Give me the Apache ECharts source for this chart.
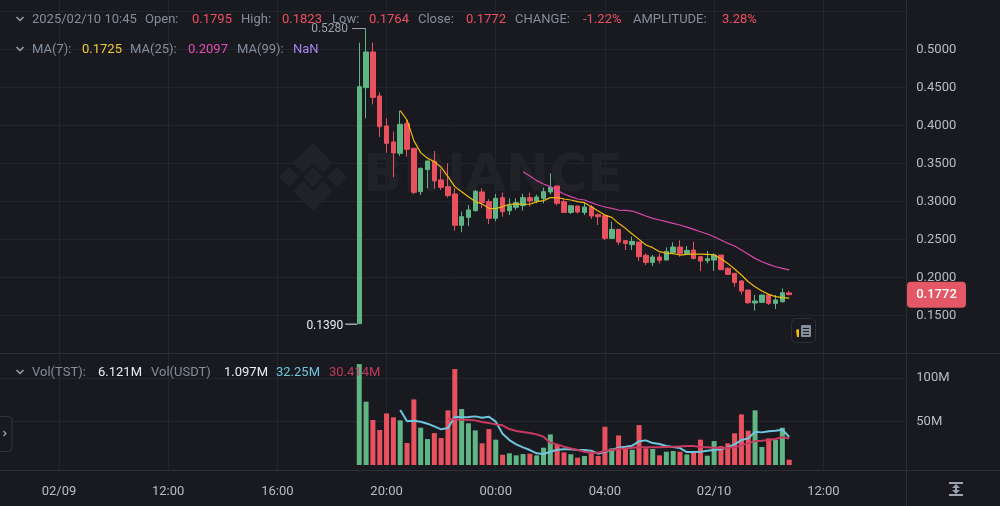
<!DOCTYPE html>
<html>
<head>
<meta charset="utf-8">
<style>html,body{margin:0;padding:0;background:#181a20}#c{width:1000px;height:506px}</style>
<script src="https://cdn.jsdelivr.net/npm/echarts@6/dist/echarts.min.js"></script>
</head>
<body>
<div id="c"></div>
<script>
// Hours counted from the start of the day of the first tick, one candle every 15 minutes
const firstCandleHour = 19;
const candleStep = 0.25;
const tickHours  = [8, 12, 16, 20, 24, 28, 32, 36];
const tickLabels = ['02/09', '12:00', '16:00', '20:00', '00:00', '04:00', '02/10', '12:00'];

const opens  = [.139,.4496,.4965,.4386,.3991,.3781,.3632,.4022,.3697,.3127,.3417,.3522,.3281,.3193,.3096,.2684,.2789,.2877,.3123,.2996,.2776,.3048,.2877,.2921,.2943,.3048,.3004,.3039,.3123,.3201,.2995,.2854,.2938,.2854,.2925,.2824,.2811,.2512,.2631,.2482,.2429,.2464,.2289,.2196,.2267,.2227,.2324,.2398,.2311,.2359,.2271,.2218,.2227,.2293,.2118,.2052,.1951,.1832,.1662,.167,.1767,.1657,.1679,.1795];
const closes = [.4509,.4965,.4368,.3982,.3763,.3636,.4013,.3684,.3118,.3434,.3531,.3268,.3184,.3075,.2684,.2798,.2886,.3132,.2982,.2776,.3039,.2864,.2947,.2982,.3048,.3004,.3057,.3127,.3184,.2973,.2854,.2942,.2859,.2925,.2806,.2797,.2512,.2631,.2464,.2446,.2473,.2271,.2196,.2267,.2223,.2341,.2398,.2315,.2354,.2249,.2214,.2245,.2293,.21,.2039,.1933,.1819,.1666,.1688,.1767,.1657,.1701,.1797,.1772];
const lows   = [.139,.4092,.4276,.3847,.364,.3316,.3597,.3588,.3092,.3083,.3171,.3167,.3149,.3048,.2614,.2592,.2675,.2864,.2908,.2702,.2737,.2798,.282,.2886,.2877,.293,.2974,.2974,.3092,.2947,.2854,.2832,.2841,.2819,.2767,.2688,.249,.2512,.2425,.2359,.2359,.2214,.2161,.2148,.2183,.2227,.2315,.2271,.2293,.2236,.2082,.2183,.2087,.21,.203,.1876,.1775,.1648,.1561,.167,.1635,.1582,.1666,.1764];
const highs  = [.5088,.528,.5088,.4434,.4092,.3917,.4193,.407,.3697,.3443,.3531,.3662,.3425,.35,.3171,.2864,.2952,.3149,.3171,.3026,.3097,.3114,.3039,.3039,.3097,.3114,.3088,.318,.3368,.3201,.3039,.2951,.2938,.2986,.2951,.2841,.2819,.2732,.2631,.249,.2534,.2464,.2315,.2293,.2315,.2394,.246,.2486,.2411,.2468,.228,.2346,.2315,.2293,.2131,.2052,.1964,.1832,.1767,.1767,.1767,.1767,.1854,.1823];

const ma7Start = 6;
const ma7 = [.4193,.407,.3798,.364,.3566,.3522,.3447,.3325,.3193,.3127,.3061,.2996,.2965,.2908,.2904,.293,.2961,.2965,.2961,.2961,.2996,.3009,.3048,.305,.303,.3017,.2995,.2982,.2929,.2872,.2819,.2789,.271,.2644,.2569,.2499,.2425,.239,.2337,.2319,.2311,.2293,.2302,.2306,.2306,.2302,.2297,.2245,.2183,.2109,.203,.1942,.1876,.1819,.1775,.1745,.1732,.1725];
const ma25Start = 24;
const ma25 = [.339,.3333,.3272,.3228,.3193,.3144,.3096,.3061,.303,.3017,.2982,.2951,.2925,.2907,.2885,.2881,.2872,.2841,.2806,.2775,.2754,.2732,.271,.2688,.2661,.2631,.26,.2569,.2534,.249,.2447,.2411,.2359,.2302,.2249,.2205,.217,.2139,.2118,.2097];

const volumes = [116,72.8,51.7,40.2,59.3,54.8,51.3,25.3,75.4,42.9,29.8,36.7,31,62.8,110.3,64.3,47.9,39.8,24.9,41.3,29.1,11.8,13.4,11.1,12.6,13,11.1,19.9,35.2,23.7,14.5,12.4,8.4,10.3,14.1,10.3,44,19.1,34,19.1,17.6,45.9,19.1,18.4,11.1,15.3,16.1,15.3,12.2,14.1,29.1,10.7,27.5,21.8,24.9,36.4,58.2,39.4,62.8,20.7,30.6,28.7,42.9,6.121];
const volFastStart = 6;
const volFast = [63.2,50.2,50.9,49.8,47.5,44.4,41,42.5,55.5,54.8,55.1,55.9,54.4,55.5,49.8,36,28.7,23.7,20.3,17.2,13.4,12.6,15.3,17.6,18,18,17.2,17.2,16.4,13,15.3,17.2,19.9,21,22.2,27.2,28.3,25.2,24.1,21.8,20.7,19.5,14.9,14.9,15.3,16.4,17.2,18,20.3,23.7,28.7,30.6,38.3,37.5,38.7,39.4,40.6,32.25];
const volSlowStart = 13;
const volSlow = [52.8,52.5,52.1,52.1,51.3,49.4,48.2,46.7,45.6,41.3,39,37.9,36.7,35.2,32.5,25.6,23.7,21,19.1,17.2,15.3,14.1,14.1,16.1,17.2,18.4,19.1,19.9,20.3,20.3,20.3,20.3,20.7,21,21.4,21.8,21.8,20.7,20.3,19.9,19.5,19.5,20.3,22.6,24.9,27.5,27.9,28.7,29.8,31.8,30.414];

const headerRow1 = [['2025/02/10 10:45',32,'g'],['Open:',145,'g'],['0.1795',192,'r'],['High:',241,'g'],['0.1823',282,'r'],['Low:',332,'g'],['0.1764',369,'r'],['Close:',418,'g'],['0.1772',466,'r'],['CHANGE:',515,'g'],['-1.22%',583,'r'],['AMPLITUDE:',633,'g'],['3.28%',722,'r']];
const headerRow2 = [['MA(7):',32,'g'],['0.1725',82,'y'],['MA(25):',130,'g'],['0.2097',188,'p'],['MA(99):',237,'g'],['NaN',293,'v']];
const headerRow3 = [['Vol(TST):',32,'g'],['6.121M',98,'w'],['Vol(USDT)',151,'g'],['1.097M',224,'w'],['32.25M',276,'b'],['30.414M',329,'c']];

const UP = '#5fb583', DOWN = '#e9515f', BG = '#181a20', GRID = '#23262c', LINE = '#2c2f36';
const FONT = 'Roboto, "Noto Sans", sans-serif';
const textColors = {g:'#848e9c', r:'#ef4f60', y:'#f5c93a', p:'#e24fb4', v:'#a583f0', w:'#eaecef', b:'#6fc5dd', c:'#c23a5e'};

const hourOf = i => firstCandleHour + i * candleStep;
const pairs = (arr, start) => arr.map((v, i) => [hourOf(start + i), v]);
const candleData = opens.map((o, i) => [hourOf(i), o, closes[i], lows[i], highs[i]]);
const volumeData = volumes.map((v, i) => ({value: [hourOf(i), v], itemStyle: {color: closes[i] >= opens[i] ? UP : DOWN}}));

const xMin = 4, xMax = 39.04, gridLeft = -50.2, gridWidth = 956.5;
const xBase = {type: 'value', min: xMin, max: xMax, interval: 4};
const hiddenX = idx => Object.assign({}, xBase, {gridIndex: idx, show: false, splitLine: {show: false}});

function lineSeries(data, color, width, xi, yi) {
  return {type: 'line', data, xAxisIndex: xi, yAxisIndex: yi, showSymbol: false, symbol: 'none',
    lineStyle: {color, width}, itemStyle: {color}, silent: true, animation: false, z: 4, clip: false};
}

const hdr = (rows, y) => rows.map(([t, x, c]) => ({type: 'text', z: 20, x, y,
  style: {text: t, fill: textColors[c], font: '13px ' + FONT, textVerticalAlign: 'middle', textAlign: 'left'}}));
const chev = y => ({type: 'polyline', z: 20, shape: {points: [[16.5, y - 2], [20, y + 1.5], [23.5, y - 2]]}, style: {stroke: '#9aa3af', lineWidth: 1.5, fill: null}});
const rule = (x1, y1, x2, y2, c) => ({type: 'line', z: 3, shape: {x1, y1, x2, y2}, style: {stroke: c || LINE, lineWidth: 1}});

const logoColor = '#202227';
const poly = pts => ({type: 'polygon', z: 0, shape: {points: pts}, style: {fill: logoColor}});
const cx = 313, cy = 177;
const logo = [
  poly([[cx, cy - 10], [cx + 10, cy], [cx, cy + 10], [cx - 10, cy]]),
  poly([[cx - 34, cy], [cx - 24, cy - 10], [cx - 14, cy], [cx - 24, cy + 10]]),
  poly([[cx + 34, cy], [cx + 24, cy - 10], [cx + 14, cy], [cx + 24, cy + 10]]),
  poly([[cx, cy - 34], [cx + 20, cy - 14], [cx + 10, cy - 4], [cx, cy - 14], [cx - 10, cy - 4], [cx - 20, cy - 14]]),
  poly([[cx, cy + 34], [cx + 20, cy + 14], [cx + 10, cy + 4], [cx, cy + 14], [cx - 10, cy + 4], [cx - 20, cy + 14]])
];

const chart = echarts.init(document.getElementById('c'), null, {renderer: 'canvas'});
const option = {
  backgroundColor: BG,
  animation: false,
  grid: [
    {left: gridLeft, width: gridWidth, top: 0, height: 353.3, outerBoundsMode: 'none'},
    {left: gridLeft, width: gridWidth, top: 354, height: 111, outerBoundsMode: 'none'},
    {left: gridLeft, width: gridWidth, top: 0, height: 470.3, outerBoundsMode: 'none'}
  ],
  xAxis: [
    hiddenX(0),
    hiddenX(1),
    Object.assign({}, xBase, {
      gridIndex: 2,
      axisLine: {show: false}, axisTick: {show: false},
      splitLine: {show: true, showMinLine: false, showMaxLine: false, lineStyle: {color: GRID, width: 1}},
      axisLabel: {show: true, color: '#b7bdc6', fontFamily: FONT, fontSize: 13, margin: 15, showMinLabel: false, showMaxLabel: false,
        formatter: v => { const k = tickHours.indexOf(v); return k >= 0 ? tickLabels[k] : ''; }}
    })
  ],
  yAxis: [
    {type: 'value', gridIndex: 0, position: 'right', min: 0.1, max: 0.56487, interval: 0.05, scale: true,
      axisLine: {show: false}, axisTick: {show: false},
      splitLine: {show: true, showMinLine: false, showMaxLine: false, lineStyle: {color: GRID}},
      axisLabel: {color: '#b7bdc6', fontFamily: FONT, fontSize: 13, align: 'left', margin: 10, padding: [2, 0, 0, 0], showMinLabel: false, showMaxLabel: false, formatter: v => v > 0.52 ? '' : v.toFixed(4)}},
    {type: 'value', gridIndex: 1, position: 'right', min: 0, max: 127.6, interval: 50,
      axisLine: {show: false}, axisTick: {show: false},
      splitLine: {show: true, showMinLine: false, showMaxLine: false, lineStyle: {color: GRID}},
      axisLabel: {color: '#b7bdc6', fontFamily: FONT, fontSize: 13, align: 'left', margin: 10, padding: [2, 0, 0, 0], showMinLabel: false, showMaxLabel: false, formatter: v => v + 'M'}},
    {type: 'value', gridIndex: 2, min: 0, max: 1, show: false, splitLine: {show: false}}
  ],
  series: [
    {type: 'candlestick', name: 'TST/USDT', xAxisIndex: 0, yAxisIndex: 0, data: candleData, barWidth: 5, z: 3,
      encode: {x: 0, y: [1, 2, 3, 4]},
      itemStyle: {color: UP, color0: DOWN, borderColor: UP, borderColor0: DOWN, borderWidth: 1}},
    lineSeries(pairs(ma7, ma7Start), '#f0b90b', 1.2, 0, 0),
    lineSeries(pairs(ma25, ma25Start), '#d946ad', 1.2, 0, 0),
    {type: 'bar', name: 'Vol', xAxisIndex: 1, yAxisIndex: 1, data: volumeData, barWidth: 5, z: 3},
    lineSeries(pairs(volFast, volFastStart), '#6fc5dd', 2, 1, 1),
    lineSeries(pairs(volSlow, volSlowStart), '#c93a60', 2, 1, 1)
  ]
};
chart.setOption(option);

// Annotations follow the scales
const px = (h, v) => chart.convertToPixel({xAxisIndex: 0, yAxisIndex: 0}, [h, v]);
const highPt = px(hourOf(1), highs[1]);
const lowPt = px(hourOf(0), lows[0]);
const lastPt = px(hourOf(63), closes[63]);
const notes = [
  {type: 'text', z: 15, x: highPt[0] - 18, y: highPt[1] + .5, style: {text: highs[1].toFixed(4), fill: '#9aa1ab', font: '12px ' + FONT, textAlign: 'right', textVerticalAlign: 'middle'}},
  rule(highPt[0] - 14, highPt[1] + .5, highPt[0], highPt[1] + .5, '#9aa1ab'),
  {type: 'text', z: 15, x: lowPt[0] - 16, y: lowPt[1] + 2, style: {text: lows[0].toFixed(4), fill: '#eaecef', font: '12px ' + FONT, textAlign: 'right', textVerticalAlign: 'middle'}},
  rule(lowPt[0] - 14, lowPt[1] + .5, lowPt[0] - 2, lowPt[1] + .5, '#eaecef'),
  {type: 'rect', z: 15, shape: {x: 907, y: lastPt[1] - 13, width: 59, height: 26, r: 4}, style: {fill: '#e35766'}},
  {type: 'text', z: 16, x: 936.5, y: lastPt[1] + .5, style: {text: closes[63].toFixed(4), fill: '#fff', font: '500 13px ' + FONT, textAlign: 'center', textVerticalAlign: 'middle'}}
];

const chrome = [
  {type: 'text', z: 0, x: 363, y: 177, style: {text: 'BINANCE', fill: logoColor, font: 'bold 52px "DejaVu Sans"', textVerticalAlign: 'middle', textAlign: 'left'}},
  ...logo,
  rule(0, 353.5, 1000, 353.5), rule(0, 470.5, 1000, 470.5), rule(906.5, 0, 906.5, 506),
  ...hdr(headerRow1, 20), ...hdr(headerRow2, 50), ...hdr(headerRow3, 373),
  chev(19), chev(49), chev(372),
  {type: 'rect', z: 20, shape: {x: -6, y: 416.5, width: 18, height: 35, r: 4}, style: {fill: BG, stroke: '#33363d', lineWidth: 1}},
  {type: 'polyline', z: 21, shape: {points: [[3.5, 431], [6, 433.5], [3.5, 436]]}, style: {stroke: '#9aa3af', lineWidth: 1.2, fill: null}},
  {type: 'rect', z: 20, shape: {x: 791.5, y: 318.5, width: 24, height: 24, r: 5}, style: {fill: BG, stroke: '#2c2f36', lineWidth: 1}},
  {type: 'rect', z: 21, shape: {x: 801, y: 325, width: 10, height: 12, r: 1}, style: {fill: '#848e9c'}},
  {type: 'rect', z: 22, shape: {x: 803, y: 328, width: 6, height: 1}, style: {fill: BG}},
  {type: 'rect', z: 22, shape: {x: 803, y: 331, width: 6, height: 1}, style: {fill: BG}},
  {type: 'rect', z: 22, shape: {x: 803, y: 334, width: 6, height: 1}, style: {fill: BG}},
  {type: 'polygon', z: 21, shape: {points: [[796, 330], [799, 329], [799, 337], [797, 337]]}, style: {fill: '#f0b90b'}},
  {type: 'rect', z: 20, shape: {x: 949, y: 482, width: 14, height: 2}, style: {fill: '#9aa3af'}},
  {type: 'rect', z: 20, shape: {x: 949, y: 494, width: 14, height: 2}, style: {fill: '#9aa3af'}},
  {type: 'polygon', z: 20, shape: {points: [[956, 484], [960, 488], [957, 488], [957, 490], [960, 490], [956, 494], [952, 490], [955, 490], [955, 488], [952, 488]]}, style: {fill: '#9aa3af'}}
];
chart.setOption({graphic: {elements: chrome.concat(notes)}});
</script>
</body>
</html>
